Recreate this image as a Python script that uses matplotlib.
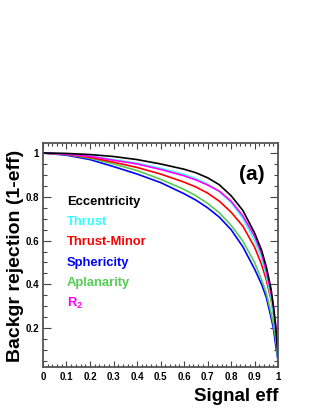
import matplotlib
matplotlib.use("Agg")
import matplotlib.pyplot as plt
from matplotlib.ticker import MultipleLocator, FixedLocator

plt.rcParams['font.family'] = ['Liberation Sans', 'DejaVu Sans']
plt.rcParams['font.weight'] = 'bold'
plt.rcParams['mathtext.fontset'] = 'custom'
plt.rcParams['mathtext.rm'] = 'Liberation Sans:bold'
plt.rcParams['mathtext.bf'] = 'Liberation Sans:bold'
plt.rcParams['mathtext.it'] = 'Liberation Sans:bold'

# signal efficiency points (shared by all curves)
sig_eff = [0.0, 0.1, 0.2, 0.3, 0.4, 0.5, 0.6, 0.65, 0.7, 0.75, 0.8, 0.85, 0.9,
           0.93, 0.95, 0.97, 0.98, 0.99, 1.0]

# background rejection (1-eff) per variable
eccentricity = [1.0, 0.998, 0.993, 0.984, 0.970, 0.950, 0.926, 0.910, 0.887, 0.855, 0.805,
                0.738, 0.635, 0.555, 0.480, 0.380, 0.300, 0.200, 0.070]
thrust = [1.0, 0.996, 0.986, 0.970, 0.953, 0.930, 0.902, 0.883, 0.858, 0.824, 0.774,
          0.702, 0.600, 0.520, 0.440, 0.340, 0.270, 0.180, 0.060]
thrust_minor = [1.0, 0.994, 0.980, 0.958, 0.934, 0.904, 0.867, 0.845, 0.817, 0.780, 0.730,
                0.666, 0.570, 0.490, 0.420, 0.330, 0.270, 0.180, 0.070]
sphericity = [1.0, 0.990, 0.970, 0.938, 0.904, 0.865, 0.814, 0.785, 0.750, 0.707, 0.650,
              0.572, 0.470, 0.400, 0.340, 0.250, 0.200, 0.120, 0.050]
aplanarity = [1.0, 0.993, 0.976, 0.950, 0.920, 0.880, 0.834, 0.805, 0.770, 0.727, 0.670,
              0.598, 0.500, 0.420, 0.360, 0.270, 0.220, 0.150, 0.060]
r2 = [1.0, 0.995, 0.985, 0.967, 0.950, 0.925, 0.896, 0.877, 0.854, 0.826, 0.780,
      0.713, 0.620, 0.540, 0.460, 0.360, 0.300, 0.220, 0.080]

names = ['Eccentricity', 'Thrust', 'Thrust-Minor', 'Sphericity', 'Aplanarity', 'R$_{2}$']
curves = [eccentricity, thrust, thrust_minor, sphericity, aplanarity, r2]
colors = ['#000000', '#33ffff', '#ff0000', '#0000ff', '#55cc55', '#ff00ff']

x_ticks = [0, 0.1, 0.2, 0.3, 0.4, 0.5, 0.6, 0.7, 0.8, 0.9, 1]
x_tick_labels = ['0', '0.1', '0.2', '0.3', '0.4', '0.5', '0.6', '0.7', '0.8', '0.9', '1']
y_ticks = [0.2, 0.4, 0.6, 0.8, 1.0]
y_tick_labels = ['0.2', '0.4', '0.6', '0.8', '1']


def save_plot(file_name):
    fig = plt.figure(figsize=(3.16, 4.09), dpi=100)
    ax = fig.add_axes([0.136, 0.103, 0.744, 0.547])

    # draw back to front so black ends on top
    order = [3, 4, 2, 1, 5, 0]
    for i in order:
        ax.plot(sig_eff, curves[i], color=colors[i], lw=1.2)

    ax.set_xlim(0, 1)
    ax.set_ylim(0.023, 1.045)
    ax.xaxis.set_major_locator(FixedLocator(x_ticks))
    ax.set_xticklabels(x_tick_labels)
    ax.xaxis.set_minor_locator(MultipleLocator(0.02))
    ax.yaxis.set_major_locator(FixedLocator(y_ticks))
    ax.set_yticklabels(y_tick_labels)
    ax.yaxis.set_minor_locator(MultipleLocator(0.05))
    ax.tick_params(which='both', direction='in', top=True, right=True,
                   labelsize=7, width=0.8, color='#444444')
    ax.tick_params(axis='x', which='major', length=4, pad=4)
    ax.tick_params(axis='x', which='minor', length=2)
    ax.tick_params(axis='y', which='major', length=6, pad=3)
    ax.tick_params(axis='y', which='minor', length=3)
    for s in ax.spines.values():
        s.set_linewidth(1.3)
        s.set_color('#555555')

    ax.set_xlabel('Signal eff', fontsize=13.5, fontweight='bold', ha='right')
    ax.xaxis.set_label_coords(1.0, -0.095)
    ax.set_ylabel('Backgr rejection (1-eff)', fontsize=14, fontweight='bold', ha='right')
    ax.yaxis.set_label_coords(-0.08, 0.97)

    ax.text(0.89, 0.86, '(a)', transform=ax.transAxes, fontsize=15,
            fontweight='bold', ha='center', va='center')

    # legend as coloured text
    for k in range(len(names)):
        ax.text(0.102, 0.737 - 0.0905 * k, names[k], transform=ax.transAxes,
                color=colors[k], fontsize=9.4, fontweight='bold', va='center')

    plt.savefig(file_name, dpi=100)
    plt.close()


def main():
    save_plot('out.png')


if __name__ == "__main__":
    main()
